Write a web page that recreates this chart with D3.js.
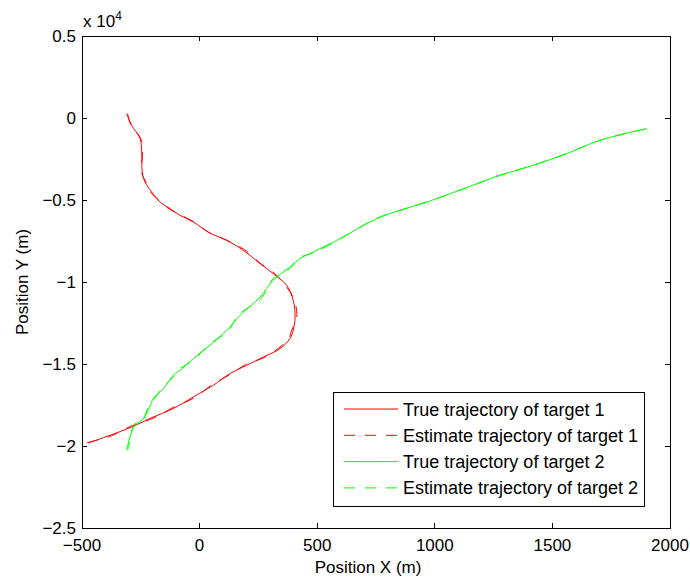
<!DOCTYPE html>
<html><head><meta charset="utf-8">
<script src="https://cdn.jsdelivr.net/npm/d3@7"></script>
<style>body{margin:0;background:#fff}svg{display:block}text{font-family:"Liberation Sans",Arial,sans-serif;fill:#000}</style>
</head><body>
<script>
const xTicks = [-500, 0, 500, 1000, 1500, 2000];
const yTicks = [5000, 0, -5000, -10000, -15000, -20000, -25000];
const yTickLabels = ["0.5", "0", "\u22120.5", "\u22121", "\u22121.5", "\u22122", "\u22122.5"];
const xTickLabels = ["\u2212500", "0", "500", "1000", "1500", "2000"];

const t1X = [-310,-289,-253,-246,-244,-232,-204,-168,-126,-83,-27,44,115,186,257,313,370,398,406,398,384,342,271,200,129,58,-27,-112,-197,-289,-381,-473];
const t1Y = [268,-445,-1256,-2171,-3293,-3903,-4512,-5122,-5524,-5933,-6341,-7012,-7457,-8067,-8878,-9488,-10201,-11116,-12134,-12946,-13451,-14061,-14573,-15079,-15585,-16298,-17012,-17720,-18232,-18842,-19348,-19817];
const e1X = [-306,-292,-250,-243,-247,-229,-208,-165,-130,-80,-22,40,120,192,262,318,366,402,413,392,378,336,276,194,134,52,-20,-118,-190,-295,-375,-478];
const e1Y = [250,-430,-1270,-2150,-3310,-3880,-4530,-5100,-5540,-5910,-6360,-6990,-7480,-8040,-8900,-9470,-10230,-11090,-12160,-12920,-13480,-14030,-14600,-15050,-15610,-16270,-17040,-17690,-18260,-18810,-19380,-19790];
const t2X = [1901,1702,1561,1419,1277,1136,966,852,753,597,483,427,384,313,257,172,115,44,-27,-83,-105,-154,-197,-218,-246,-275,-296,-310];
const t2Y = [-646,-1360,-2171,-2884,-3494,-4244,-5122,-5628,-6134,-7354,-8171,-8573,-9085,-9896,-10915,-12031,-12946,-13860,-14671,-15390,-15585,-16500,-17110,-17823,-18433,-18738,-19451,-20262];
const e2X = [1898,1706,1557,1423,1272,1140,961,857,748,602,490,420,390,308,266,166,122,38,-20,-90,-100,-160,-192,-224,-241,-280,-292,-305];
const e2Y = [-660,-1340,-2190,-2860,-3510,-4220,-5140,-5610,-6150,-7330,-8190,-8550,-9110,-9870,-10940,-12000,-12970,-13830,-14700,-15360,-15610,-16470,-17140,-17800,-18460,-18710,-19480,-20230];

const seriesNames = ["True trajectory of target 1","Estimate trajectory of target 1","True trajectory of target 2","Estimate trajectory of target 2"];
const seriesColors = ["#ff0000","#ff0000","#00ff00","#00ff00"];
const seriesDash = [null,"11,10",null,"11,10"];
const seriesX = [t1X,e1X,t2X,e2X];
const seriesY = [t1Y,e1Y,t2Y,e2Y];

const W = 690, H = 580;
const L = 82, R = 670, T = 36, B = 528;
const svg = d3.select("body").append("svg").attr("width", W).attr("height", H);
const x = d3.scaleLinear().domain([-500, 2000]).range([L, R]);
const y = d3.scaleLinear().domain([-25000, 5000]).range([B, T]);
const fs = 17;

// lines
const line = d3.line().x(d => x(d[0])).y(d => y(d[1])).curve(d3.curveCatmullRom.alpha(0.5));
const plot = svg.append("g");
seriesX.forEach((xs, i) => {
  const pts = xs.map((v, j) => [v, seriesY[i][j]]);
  plot.append("path").attr("d", line(pts)).attr("fill", "none")
    .attr("stroke", seriesColors[i]).attr("stroke-width", 1)
    .attr("stroke-dasharray", seriesDash[i]);
});

// axes box with inward ticks
const ax = svg.append("g").attr("stroke", "#000").attr("stroke-width", 1).attr("shape-rendering", "crispEdges");
ax.append("rect").attr("x", L).attr("y", T).attr("width", R - L).attr("height", B - T).attr("fill", "none");
const tl = 5;
xTicks.forEach(v => {
  ax.append("line").attr("x1", x(v)).attr("x2", x(v)).attr("y1", B).attr("y2", B - tl);
  ax.append("line").attr("x1", x(v)).attr("x2", x(v)).attr("y1", T).attr("y2", T + tl);
});
yTicks.forEach(v => {
  ax.append("line").attr("x1", L).attr("x2", L + tl).attr("y1", y(v)).attr("y2", y(v));
  ax.append("line").attr("x1", R).attr("x2", R - tl).attr("y1", y(v)).attr("y2", y(v));
});

// tick labels
svg.append("g").selectAll("text").data(xTicks).join("text")
  .attr("x", d => x(d)).attr("y", B + 23).attr("text-anchor", "middle")
  .attr("font-size", fs).text((d, i) => xTickLabels[i]);
svg.append("g").selectAll("text").data(yTicks).join("text")
  .attr("x", L - 6).attr("y", d => y(d) + 6).attr("text-anchor", "end")
  .attr("font-size", fs).text((d, i) => yTickLabels[i]);

// exponent label
const ex = svg.append("text").attr("x", L + 1).attr("y", 27).attr("font-size", fs);
ex.append("tspan").text("x 10");
ex.append("tspan").attr("font-size", 12).attr("dy", -7).text("4");

// axis titles
svg.append("text").attr("x", 368).attr("y", 573).attr("text-anchor", "middle").attr("font-size", fs).text("Position X (m)");
svg.append("text").attr("transform", `translate(28,${(T + B) / 2}) rotate(-90)`).attr("text-anchor", "middle").attr("font-size", fs).text("Position Y (m)");

// legend
const lg = svg.append("g");
lg.append("rect").attr("x", 333).attr("y", 392).attr("width", 311).attr("height", 114)
  .attr("fill", "#fff").attr("stroke", "#000").attr("stroke-width", 1).attr("shape-rendering", "crispEdges");
seriesNames.forEach((n, i) => {
  const yy = 409 + i * 26.3;
  lg.append("line").attr("x1", 344).attr("x2", 398).attr("y1", yy).attr("y2", yy)
    .attr("stroke", seriesColors[i]).attr("stroke-width", 1).attr("stroke-dasharray", seriesDash[i]);
  lg.append("text").attr("x", 403).attr("y", yy + 6.5).attr("font-size", 18).text(n);
});
</script>
</body></html>
